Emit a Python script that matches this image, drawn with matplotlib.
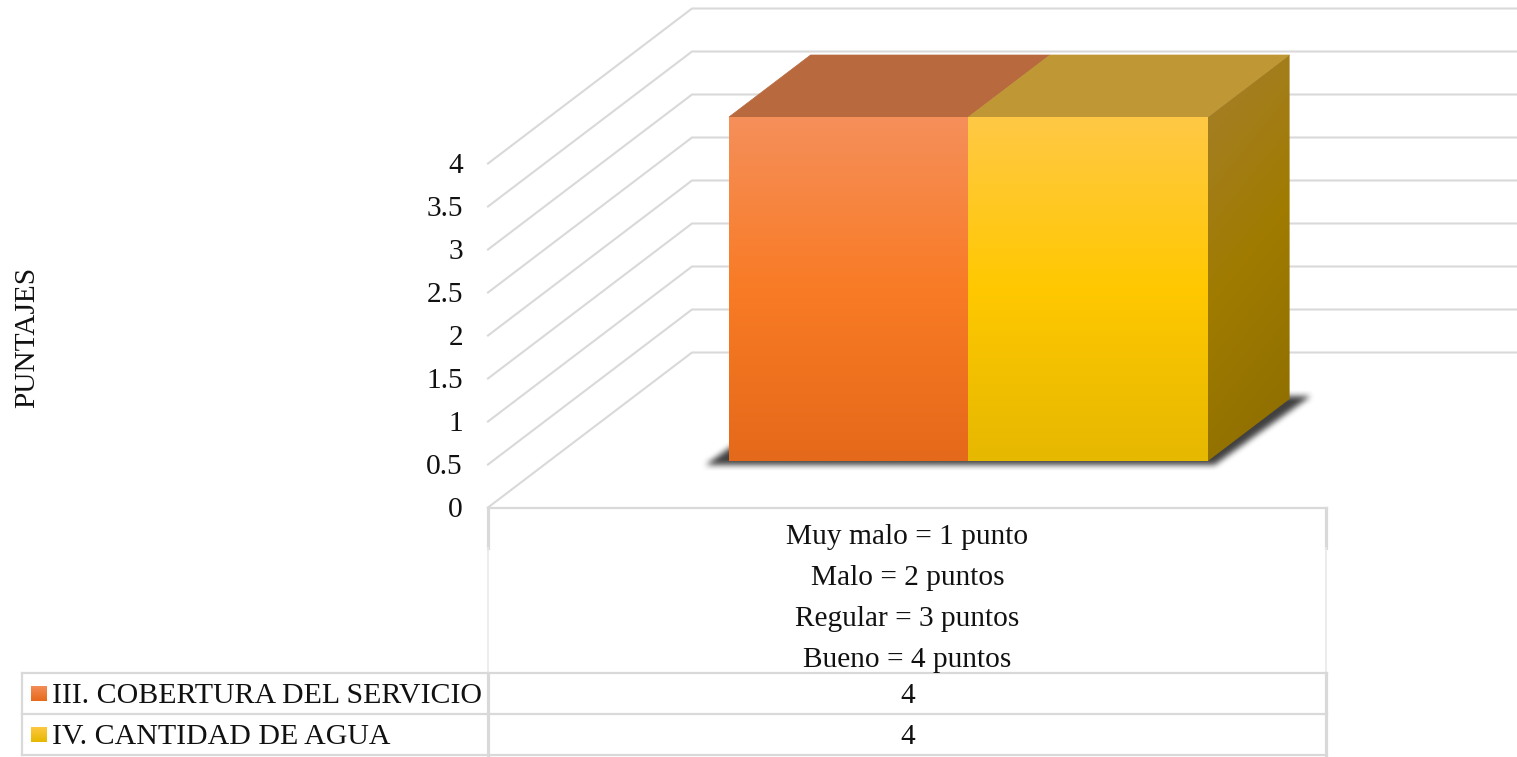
import matplotlib
matplotlib.use('Agg')
import matplotlib.pyplot as plt
import numpy as np
from matplotlib.patches import Polygon
from matplotlib.path import Path
from matplotlib.colors import LinearSegmentedColormap

plt.rcParams['font.family'] = ['Liberation Serif', 'DejaVu Serif']

# Chart data
category = ['Muy malo = 1 punto', 'Malo = 2 puntos', 'Regular = 3 puntos', 'Bueno = 4 puntos']
series_names = ['III. COBERTURA DEL SERVICIO', 'IV. CANTIDAD DE AGUA']
series_values = [4, 4]
y_ticks = [0, 0.5, 1, 1.5, 2, 2.5, 3, 3.5, 4]
y_label = 'PUNTAJES'

GRID = '#d9d9d9'
TEXT = '#111111'
FS = 21.2

# 3D projection settings, in pixels
X0, Y0 = 488, 507.5
CAT_W = 839
UNIT = 86
DEPTH_X, DEPTH_Y = 204, 155
BAR_LEFT = 179.8
BAR_W = 239.5
D_FRONT, D_BACK = 0.3, 0.7


def proj(x, value, depth):
    return X0 + x + depth * DEPTH_X, Y0 - value * UNIT - depth * DEPTH_Y


fig = plt.figure(figsize=(15.17, 7.57), dpi=100)
ax = fig.add_axes([0, 0, 1, 1])


def grad_fill(pts, colors, zorder, diagonal=False):
    # gradient image clipped to a polygon
    pts = np.array(pts)
    cmap = LinearSegmentedColormap.from_list('g', colors)
    if diagonal:
        g = np.linspace(0, 1, 200)
        img = 0.2 * g[None, :] + 0.8 * g[:, None]
    else:
        img = np.linspace(0, 1, 200)[:, None]
    ext = (pts[:, 0].min(), pts[:, 0].max(), pts[:, 1].max(), pts[:, 1].min())
    im = ax.imshow(img, cmap=cmap, extent=ext, aspect='auto', zorder=zorder, origin='upper')
    clip = Polygon(pts, transform=ax.transData, fc='none', ec='none')
    ax.add_patch(clip)
    im.set_clip_path(clip)


def soft_shadow(pts, color, zorder, blur=7):
    # parallelogram mask smoothed with a box filter, drawn as an RGBA image
    xs = np.arange(680, 1340)
    ys = np.arange(380, 480)
    gx, gy = np.meshgrid(xs, ys)
    mask = Path(pts).contains_points(np.c_[gx.ravel(), gy.ravel()]).reshape(gx.shape).astype(float)
    kernel = np.ones(blur) / blur
    for _ in range(2):
        mask = np.apply_along_axis(lambda m: np.convolve(m, kernel, mode='same'), 0, mask)
        mask = np.apply_along_axis(lambda m: np.convolve(m, kernel, mode='same'), 1, mask)
    rgba = np.zeros(mask.shape + (4,))
    rgba[..., :3] = matplotlib.colors.to_rgb(color)
    rgba[..., 3] = mask
    ax.imshow(rgba, extent=(680, 1340, 480, 380), aspect='auto', zorder=zorder, origin='upper')


# Gridlines on wall and side wall
for t in y_ticks:
    p0 = proj(0, t, 0)
    p1 = proj(0, t, 1)
    ax.plot([p0[0], p1[0], 1517], [p0[1], p1[1], p1[1]], color=GRID, lw=1.5, zorder=1,
            solid_joinstyle='miter')
    ax.text(p0[0] - 25, p0[1] + 2.5, f'{t:g}', ha='right', va='center', fontsize=FS, color=TEXT)

ax.text(27, 337, y_label, rotation=90, ha='center', va='center', fontsize=FS, color=TEXT)

# Soft shadow under the bars
bottom = proj(BAR_LEFT, 0, D_FRONT)[1] + 3.5
top_y = proj(BAR_LEFT, 0, D_BACK)[1] - 4
soft_shadow([(705, bottom), (1214, bottom), (1311, top_y), (802, top_y)], '#404040', 2)

# Bars, drawn from the series values
front_colors = [['#f58f5a', '#f97b25', '#e5691a'], ['#ffc945', '#ffc800', '#e6b800']]
top_colors = ['#b8693e', '#bf9735']
for i, v in enumerate(series_values):
    x0 = BAR_LEFT + i * BAR_W
    x1 = x0 + BAR_W
    a = proj(x0, 0, D_FRONT)
    b = proj(x1, 0, D_FRONT)
    c = proj(x1, v, D_FRONT)
    d = proj(x0, v, D_FRONT)
    grad_fill([a, b, c, d], front_colors[i], 4)
    ax.add_patch(Polygon([d, c, proj(x1, v, D_BACK), proj(x0, v, D_BACK)], fc=top_colors[i],
                         ec=top_colors[i], lw=0.5, zorder=3))

# Right side of the last bar
x_end = BAR_LEFT + 2 * BAR_W
v = series_values[-1]
grad_fill([proj(x_end, 0, D_FRONT), proj(x_end, v, D_FRONT), proj(x_end, v, D_BACK), proj(x_end, 0, D_BACK)],
          ['#a67f2c', '#a07b00', '#8c6d00'], 4, diagonal=True)

# Data table
table_left, table_right = 22, X0 + CAT_W
rows = [673, 714, 755]
ax.plot([X0, table_right], [Y0, Y0], color=GRID, lw=1.6, zorder=1)
ax.plot([table_left, table_left], [rows[0], rows[-1]], color=GRID, lw=1.6, zorder=1)
for r in rows:
    ax.plot([table_left, table_right], [r, r], color=GRID, lw=1.6, zorder=1)
for xv in [X0, table_right - 0.5]:
    ax.plot([xv, xv], [Y0, 548], color=GRID, lw=2.3, zorder=1)
    ax.plot([xv, xv], [548, rows[0]], color='#e9e9e9', lw=1.2, zorder=1)
    ax.plot([xv, xv], [rows[0], rows[-1]], color=GRID, lw=2.3, zorder=1)

cx = X0 + CAT_W / 2
for k, line in enumerate(category):
    ax.text(cx, 536.5 + k * 41.3, line, ha='center', va='center', fontsize=FS, color=TEXT)

for i, name in enumerate(series_names):
    yc = (rows[i] + rows[i + 1]) / 2
    ax.text(52, yc + 2.5, name, ha='left', va='center', fontsize=21.5, color=TEXT)
    ax.text(cx, yc + 2.5, f'{series_values[i]:g}', ha='center', va='center', fontsize=FS, color=TEXT)
    s = 16
    grad_fill([(31, yc - s / 2), (47, yc - s / 2), (47, yc + s / 2), (31, yc + s / 2)],
              [front_colors[i][0], front_colors[i][2]], 4)

ax.set_xlim(0, 1517)
ax.set_ylim(757, 0)
ax.axis('off')

fig.savefig('out.png', dpi=100)
